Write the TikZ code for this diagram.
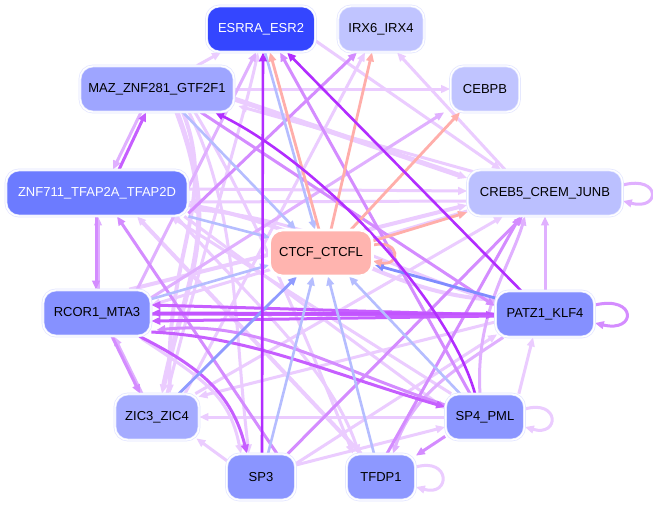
\documentclass[tikz,border=0pt]{standalone}
\usepackage{fontspec}
\setmainfont{Liberation Sans}
\usetikzlibrary{arrows.meta,calc}
\pgfdeclarelayer{bg}
\pgfsetlayers{bg,main}
\definecolor{cvl}{HTML}{EBCCFF}
\definecolor{cl}{HTML}{E0B0FF}
\definecolor{cm}{HTML}{D48CFF}
\definecolor{cs}{HTML}{C65EFF}
\definecolor{cd}{HTML}{B22DFF}
\definecolor{clb}{HTML}{B5BDFF}
\definecolor{cb}{HTML}{7F8CFF}
\definecolor{csal}{HTML}{FFAEAA}
\definecolor{ndline}{HTML}{E2E5FF}
\definecolor{fES}{HTML}{3446FF}
\definecolor{fIR}{HTML}{C0C4FF}
\definecolor{fMZ}{HTML}{9EA5FF}
\definecolor{fCE}{HTML}{C0C4FF}
\definecolor{fZN}{HTML}{6C7BFF}
\definecolor{fCR}{HTML}{BBC0FF}
\definecolor{fCT}{HTML}{FFB4AF}
\definecolor{fRC}{HTML}{8691FF}
\definecolor{fPA}{HTML}{8590FF}
\definecolor{fZI}{HTML}{A4ABFF}
\definecolor{fSP}{HTML}{8A95FF}
\definecolor{fTF}{HTML}{8D98FF}
\begin{document}
\begin{tikzpicture}[x=1pt,y=-1pt,
  nd/.style={rectangle, rounded corners=13pt, minimum height=46pt, inner sep=0pt,
    draw=ndline, line width=0.7pt, double=white, double distance=1.4pt,
    font=\fontsize{13}{15}\selectfont},
  ed/.style={line width=3pt, -{Triangle[length=9pt,width=7.5pt]}},
  evl/.style={ed, draw=cvl},
  el/.style={ed, draw=cl},
  em/.style={ed, draw=cm},
  es/.style={ed, draw=cs},
  edk/.style={ed, draw=cd, line width=2.6pt},
  elb/.style={ed, draw=clb, line width=2.6pt},
  eb/.style={ed, draw=cb, line width=2.8pt},
  esal/.style={ed, draw=csal, line width=2.8pt},
  thick5/.style={line width=5pt}]
\useasboundingbox (0,0) rectangle (653,507);

\node[nd, fill=fES, text=white, minimum width=109pt] (ES) at (261,29) {ESRRA\_ESR2};
\node[nd, fill=fIR, minimum width=86pt] (IR) at (381,29) {IRX6\_IRX4};
\node[nd, fill=fMZ, minimum width=154pt] (MZ) at (157,89) {MAZ\_ZNF281\_GTF2F1};
\node[nd, fill=fCE, minimum width=69pt] (CE) at (485,89) {CEBPB};
\node[nd, fill=fZN, text=white, minimum width=182pt] (ZN) at (97,193) {ZNF711\_TFAP2A\_TFAP2D};
\node[nd, fill=fCR, minimum width=155pt] (CR) at (545,193) {CREB5\_CREM\_JUNB};
\node[nd, fill=fCT, draw=white, minimum width=103pt] (CT) at (321,253) {CTCF\_CTCFL};
\node[nd, fill=fRC, minimum width=108pt] (RC) at (97,313) {RCOR1\_MTA3};
\node[nd, fill=fPA, minimum width=99pt] (PA) at (545,314) {PATZ1\_KLF4};
\node[nd, fill=fZI, minimum width=84pt] (ZI) at (157,417) {ZIC3\_ZIC4};
\node[nd, fill=fSP, minimum width=79pt] (S4) at (485,417) {SP4\_PML};
\node[nd, fill=fSP, minimum width=69pt] (S3) at (261,477) {SP3};
\node[nd, fill=fTF, minimum width=69pt] (TF) at (381,477) {TFDP1};

\begin{pgfonlayer}{bg}
\fill[white] (0,0) rectangle (653,507);
% very light
\draw[evl] ($(ZI.north)+(10,0)$) .. controls +(30,-120) and +(-15,70) .. ($(ES.south)+(-3,0)$);
\draw[evl] (MZ.east) -- (CE.west);
\draw[evl] ($(ES.east)+(0,12)$) -- ($(CR.north)+(-44,0)$);
\draw[evl] ($(CR.north)+(-40,0)$) -- ($(IR.south)+(16,0)$);
\draw[evl] ($(ZN.east)+(0,-4)$) -- ($(CR.west)+(0,-2)$);
\draw[evl] ($(CR.west)+(0,8)$) -- ($(ZN.east)+(0,9)$);
\draw[evl, thick5] ($(MZ.east)+(0,10)$) -- ($(CR.west)+(0,-15)$);
\draw[evl] ($(CR.north west)+(6,2)$) -- ($(MZ.east)+(4,17)$);
\draw[evl] ($(PA.west)+(0,8)$) -- ($(ZI.north east)+(-1,3)$);
\draw[evl] (S4.west) -- (ZI.east);
\draw[evl] ($(S3.north west)+(2,8)$) -- ($(ZI.south east)+(-3,-2)$);
\draw[evl] ($(S3.east)+(0,-12)$) -- ($(S4.west)+(0,10)$);
\draw[evl] ($(ZN.south east)+(-12,0)$) .. controls +(60,70) and +(-30,-90) .. ($(TF.north)+(-22,0)$);
\draw[evl, thick5] ($(MZ.south)+(20,0)$) .. controls +(45,120) and +(25,-120) .. ($(ZI.north)+(5,0)$);
\draw[evl, line width=4pt] ($(MZ.south)+(26,0)$) .. controls +(35,90) and +(-5,-140) .. ($(ZI.north)+(13,0)$);
\draw[evl] ($(MZ.south)+(32,0)$) .. controls +(50,100) and +(-15,-120) .. ($(S3.north)+(-12,0)$);
\draw[evl] ($(MZ.south)+(38,0)$) .. controls +(60,100) and +(-40,-100) .. ($(TF.north)+(-28,0)$);
\draw[evl] ($(ZN.south east)+(-4,0)$) -- ($(S4.west)+(0,-8)$);
\draw[evl] ($(S3.north east)+(0,10)$) -- ($(PA.south west)+(2,-3)$);
\draw[evl] ($(ZI.north east)+(-4,0)$) -- ($(CR.south)+(-42,0)$);
\draw[evl, line width=4pt] ($(TF.north)+(-20,0)$) -- ($(ZN.south)+(40,0)$);
\draw[evl] ($(S4.north west)+(6,0)$) -- ($(ZN.south east)+(-18,0)$);
\draw[evl] ($(PA.west)+(0,-12)$) .. controls +(-120,-40) and +(120,10) .. ($(ZN.east)+(0,16)$);
\draw[evl, line width=4pt] ($(ZN.east)+(0,12)$) .. controls +(130,20) and +(-120,-10) .. ($(PA.west)+(0,-14)$);
\draw[evl] ($(CR.west)+(0,18)$) -- ($(RC.east)+(0,-8)$);
\draw[evl, line width=4pt] ($(RC.north east)+(-22,0)$) -- ($(CR.west)+(0,12)$);
\draw[evl] ($(ZI.north)+(28,0)$) -- ($(IR.south)+(-16,0)$);
\draw[evl] ($(MZ.north)+(40,0)$) -- ($(ES.south)+(-40,0)$);
\draw[evl] ($(S4.north east)+(-6,0)$) -- ($(PA.south)+(-12,0)$);
\draw[evl] ($(RC.south east)+(-10,2)$) .. controls +(60,40) and +(-12,-60) .. ($(S3.north)+(-20,0)$);
\draw[evl] ($(TF.east)+(0,-10)$) .. controls +(35,-10) and +(35,10) .. ($(TF.east)+(0,10)$);
\draw[evl] ($(S4.east)+(0,-8)$) .. controls +(35,-10) and +(35,10) .. ($(S4.east)+(0,10)$);
% light
\draw[el] ($(RC.north)+(40,0)$) -- ($(ES.south)+(-5,0)$);
\draw[el] ($(RC.north east)+(0,8)$) -- ($(CE.south west)+(-6,0)$);
\draw[el] (PA.north) -- (CR.south);
\draw[el] ($(S4.north)+(-5,0)$) .. controls +(-5,-80) and +(-15,50) .. ($(CR.south)+(-20,0)$);
\draw[el] ($(PA.south west)+(8,0)$) .. controls +(-45,30) and +(20,-60) .. ($(TF.north)+(12,0)$);
\draw[el] ($(MZ.south)+(-16,0)$) -- ($(ZN.north)+(16,0)$);
\draw[el] ($(RC.north)+(1,0)$) -- ($(ZN.south)+(1,0)$);
\draw[el] ($(ZI.north)+(-15,0)$) -- ($(RC.south)+(17,0)$);
\draw[el] ($(CR.east)+(0,-8)$) .. controls +(38,-10) and +(38,10) .. ($(CR.east)+(0,8)$);
% medium
\draw[em] ($(ZN.south east)+(0,-3)$) -- ($(IR.south)+(-24,0)$);
\draw[em] ($(MZ.south)+(44,0)$) -- ($(PA.west)+(0,-8)$);
\draw[em] ($(S4.north)+(-15,0)$) -- ($(ES.south)+(19,0)$);
\draw[em] ($(S3.north east)+(-8,0)$) -- ($(CR.south)+(-22,0)$);
\draw[em] ($(TF.north)+(6,0)$) -- ($(CR.south)+(-25,0)$);
\draw[em] ($(S3.north)+(16,0)$) -- ($(ZN.south)+(20,0)$);
\draw[em] ($(RC.south)+(15,0)$) -- ($(ZI.north)+(-17,0)$);
\draw[em] ($(ZN.south)+(-1,0)$) -- ($(RC.north)+(-1,0)$);
\draw[em] ($(S4.south west)+(0,-4)$) -- ($(TF.north east)+(0,2)$);
\draw[em] ($(PA.east)+(0,-9)$) .. controls +(42,-10) and +(42,10) .. ($(PA.east)+(0,9)$);
\draw[em] ($(S4.west)+(0,-12)$) .. controls +(-120,-40) and +(100,-10) .. ($(RC.east)+(5,17)$);
% strong
\draw[es] ($(RC.east)+(0,19)$) .. controls +(100,5) and +(-120,-35) .. ($(S4.west)+(0,-10)$);
\draw[es] ($(RC.south east)+(-12,0)$) .. controls +(60,30) and +(-15,-60) .. ($(S3.north)+(-14,0)$);
\draw[es] ($(ZN.north)+(22,0)$) -- ($(MZ.south)+(-11,0)$);
\draw[es] ($(RC.east)+(0,1)$) -- ($(PA.west)+(0,1)$);
\draw[es] ($(PA.west)+(0,1)$) -- ($(RC.east)+(0,-8)$);
\draw[es, draw=cs!80!cd] ($(PA.west)+(0,0)$) -- ($(RC.east)+(0,0)$);
\draw[es] ($(PA.west)+(0,2)$) -- ($(RC.east)+(0,8)$);
% blues
\draw[elb] ($(S3.north)+(7,0)$) -- ($(CT.south)+(-8,0)$);
\draw[eb, draw=cb!70!clb] ($(ZI.north)+(22,0)$) -- ($(CT.south)+(-24,0)$);
\draw[elb] ($(TF.north)+(-7,0)$) -- ($(CT.south)+(7,0)$);
\draw[elb] ($(S4.north)+(-25,0)$) -- ($(CT.south)+(28,0)$);
\draw[elb] ($(RC.east)+(0,-14)$) -- ($(CT.west)+(0,12)$);
\draw[elb] (ZN.south east) -- ($(CT.north west)+(1,8)$);
\draw[elb] ($(MZ.south)+(26,0)$) -- ($(CT.north)+(-25,0)$);
\draw[elb] ($(ES.south)+(4,0)$) -- ($(CT.north)+(-6,0)$);
\draw[eb] ($(PA.west)+(0,-16)$) -- ($(CT.east)+(2,12)$);
% salmon
\draw[esal] ($(CT.north)+(-2,0)$) -- ($(ES.south)+(9,0)$);
\draw[esal] ($(CT.north)+(10,0)$) -- ($(IR.south)+(-9,0)$);
\draw[esal] ($(CT.north east)+(-22,0)$) -- ($(CE.south)+(-25,0)$);
\draw[esal] ($(CT.east)+(0,-12)$) -- ($(CR.south west)+(0,-4)$);
\draw[esal] ($(CT.east)+(0,-8)$) .. controls +(28,-6) and +(28,6) .. ($(CT.east)+(0,8)$);
% dark
\draw[edk] ($(PA.north)+(-24,0)$) -- ($(ES.south)+(26,0)$);
\draw[edk] ($(S3.north)+(1,0)$) -- ($(ES.south)+(2,0)$);
\draw[edk] ($(S4.north)+(-10,0)$) .. controls +(-25,-90) and +(110,55) .. ($(MZ.south)+(58,0)$);
\end{pgfonlayer}
\end{tikzpicture}
\end{document}
